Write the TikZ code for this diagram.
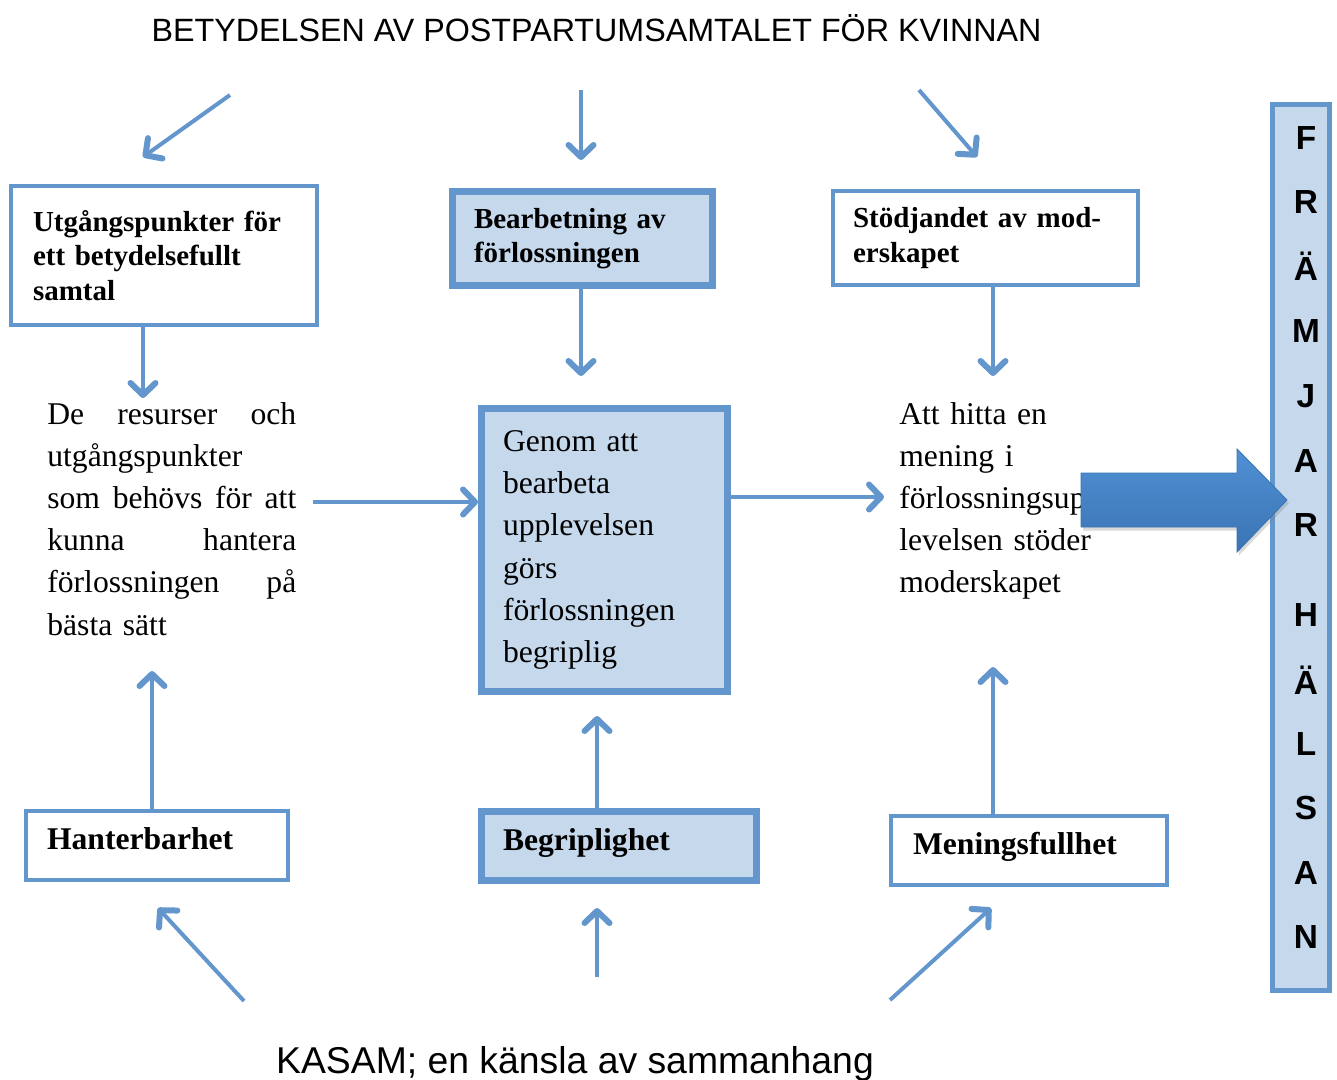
\documentclass[tikz,border=0pt]{standalone}
\usepackage{fontspec}
\setmainfont{Liberation Serif}
\newfontfamily\arial{Liberation Sans}
\usetikzlibrary{arrows.meta, shadows}
\definecolor{kant}{RGB}{99,150,204}
\definecolor{ljus}{RGB}{197,216,236}
\definecolor{piltopp}{RGB}{80,144,212}
\definecolor{pilbotten}{RGB}{58,116,180}

\begin{document}
\begin{tikzpicture}[x=0.02cm, y=-0.02cm,
    ruta/.style={draw=kant, line width=0.08cm, fill=white, align=left, inner ysep=0pt,
        font=\fontsize{16.5}{19.6}\selectfont\bfseries},
    tjockruta/.style={ruta, line width=0.14cm, fill=ljus,
        drop shadow={opacity=0.3, shadow xshift=1pt, shadow yshift=-2pt}},
    enrad/.style={font=\fontsize{18}{21}\selectfont\bfseries, text height=0.69em, text depth=0.22em, minimum height=1.38cm},
    brodtext/.style={anchor=north west, inner sep=0pt, align=left, font=\fontsize{18}{24}\selectfont},
    pil/.style={draw=kant, line width=0.08cm,
        -{Straight Barb[length=0.24cm, width=0.5cm, line width=0.12cm, round]}}]
    \useasboundingbox (0,0) rectangle (1337,1079);

    % Texter
    \node[font=\arial\fontsize{18.35}{22}\selectfont, inner sep=0pt] (rubrik) at (596.5,28) {BETYDELSEN AV POSTPARTUMSAMTALET FÖR KVINNAN};
    \node[font=\arial\fontsize{21.25}{25}\selectfont, inner sep=0pt, anchor=base] (kasam) at (575,1073) {KASAM; en känsla av sammanhang};

    % Rutor
    \node[ruta, text width=5.24cm, inner xsep=0.44cm, minimum height=2.78cm] (utg) at (164,255.5) {Utgångspunkter för\\ ett betydelsefullt\\ samtal};
    \node[tjockruta, text width=4.34cm, inner xsep=0.43cm, minimum height=1.88cm] (bearb) at (582.5,238.5) {Bearbetning av\\ förlossningen};
    \node[ruta, text width=5.3cm, inner xsep=0.4cm, minimum height=1.88cm] (stod) at (985.5,238) {Stödjandet av mod-\\erskapet};
    \node[tjockruta, text width=4.06cm, inner xsep=0.43cm, minimum height=5.66cm, font=\fontsize{18}{24}\selectfont] (genom) at (604.5,550) {Genom att\\ bearbeta\\ upplevelsen\\ görs\\ förlossningen\\ begriplig};
    \node[ruta, enrad, text width=4.4cm, inner xsep=0.42cm] (hant) at (157,845.5) {Hanterbarhet};
    \node[tjockruta, enrad, text width=4.64cm, inner xsep=0.43cm] (begr) at (619,846) {Begriplighet};
    \node[ruta, enrad, text width=4.64cm, inner xsep=0.44cm] (men) at (1029,850.5) {Meningsfullhet};

    \node[brodtext, text width=4.98cm] (resurser) at (47,402) {De \hfill resurser \hfill och\\ utgångspunkter\\ som \hfill behövs \hfill för \hfill att\\ kunna \hfill hantera\\ förlossningen \hfill på\\ bästa sätt};
    \node[brodtext, text width=4.5cm] (mening) at (899,402) {Att hitta en\\ mening i\\ förlossningsupp\\ levelsen stöder\\ moderskapet};

    % Stapeln till höger
    \node[draw=kant, line width=0.1cm, fill=ljus, minimum width=1.14cm, minimum height=17.72cm, inner sep=0pt] (stapel) at (1301,547.5) {};
    \foreach \bokstav/\yy [count=\i] in {F/138, R/202, Ä/266, M/331, J/396, A/461, R/525, H/615, Ä/680, L/744, S/808, A/873, N/937}
        \node[font=\arial\fontsize{19}{21}\selectfont\bfseries, inner sep=0pt] (b\i) at (1306,\yy) {\bokstav};

    % Stora pilen
    \path[draw=pilbotten, line width=0.5pt, top color=piltopp, bottom color=pilbotten,
        drop shadow={opacity=0.3, shadow xshift=1pt, shadow yshift=-2pt}]
        (1081,473) -- (1237,473) -- (1237,449) -- (1287,500) -- (1237,552) -- (1237,527) -- (1081,527) -- cycle;

    % Fria pilandar
    \coordinate (t1) at (230,95);  \coordinate (t1s) at (143,157);
    \coordinate (t2) at (581,90);  \coordinate (t2s) at (581,160);
    \coordinate (t3) at (919,90);  \coordinate (t3s) at (977,157);
    \coordinate (u1) at (244,1001); \coordinate (u1s) at (158,908);
    \coordinate (u2) at (597,977);  \coordinate (u2s) at (597,908);
    \coordinate (u3) at (890,1000); \coordinate (u3s) at (991,908);
    \coordinate (p4) at (143,398);
    \coordinate (p5) at (581,376);
    \coordinate (p6) at (993,376);
    \coordinate (p7) at (313,502);
    \coordinate (p8) at (884,497);
    \coordinate (p9) at (152,671);
    \coordinate (p10) at (597,716);
    \coordinate (p11) at (993,667);

    % Pilar
    \draw[pil] (t1) -- (t1s);
    \draw[pil] (t2) -- (t2s);
    \draw[pil] (t3) -- (t3s);
    \draw[pil] (utg.south -| p4) -- (p4);
    \draw[pil] (bearb.south -| p5) -- (p5);
    \draw[pil] (stod.south -| p6) -- (p6);
    \draw[pil] (p7) -- (p7 -| genom.west);
    \draw[pil] (genom.east |- p8) -- (p8);
    \draw[pil] (hant.north -| p9) -- (p9);
    \draw[pil] (begr.north -| p10) -- (p10);
    \draw[pil] (men.north -| p11) -- (p11);
    \draw[pil] (u1) -- (u1s);
    \draw[pil] (u2) -- (u2s);
    \draw[pil] (u3) -- (u3s);
\end{tikzpicture}
\end{document}
